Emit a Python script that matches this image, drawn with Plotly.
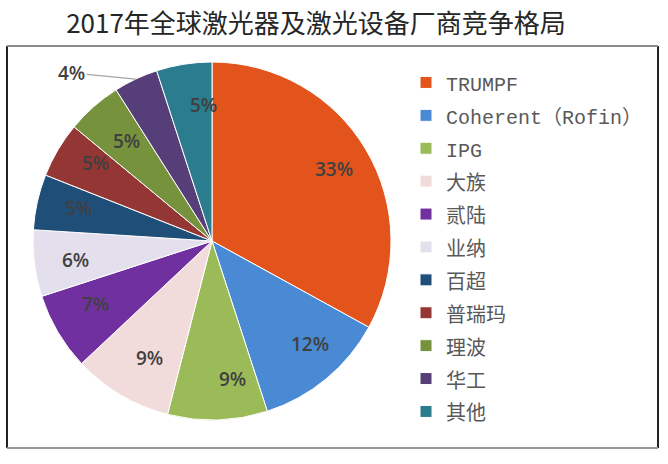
import math
import plotly.graph_objects as go

# ---- data ----
title_text = "2017年全球激光器及激光设备厂商竞争格局"
companies = ["TRUMPF", "Coherent（Rofin）", "IPG", "大族", "贰陆", "业纳",
             "百超", "普瑞玛", "理波", "华工", "其他"]
shares = [33, 12, 9, 9, 7, 6, 5, 5, 5, 4, 5]
colors = ["#E2541C", "#4A8AD4", "#9BBB59", "#F2DCDB", "#7030A0", "#E4DFEC",
          "#1F4E79", "#943634", "#76923C", "#563F78", "#2B7C8E"]
outside_label = "华工"

W, H = 668, 464
# pie placement (pixels)
cx, cy, R = 212, 241, 179

legend_labels = [f"<span style='font-size:20px'>{c}</span>" for c in companies]

fig = go.Figure(go.Pie(
    labels=legend_labels,
    values=shares,
    textinfo="none",
    sort=False,
    direction="clockwise",
    rotation=0,
    marker=dict(colors=colors, line=dict(color="white", width=1)),
    domain=dict(x=[(cx - R) / W, (cx + R) / W], y=[1 - (cy + R) / H, 1 - (cy - R) / H]),
    hoverinfo="label+percent",
))

label_font = dict(family="Open Sans, sans-serif", size=19, color="#404040", weight=600)
total = sum(shares)
cum = 0
for c, v in zip(companies, shares):
    frac = (cum + v / 2) / total
    cum += v
    theta = 2 * math.pi * frac
    if c == outside_label:
        hx = cx + R * math.sin(theta)
        hy = cy - R * math.cos(theta)
        fig.add_annotation(
            x=hx / W, y=1 - hy / H, xref="paper", yref="paper",
            text=f"{v}%", showarrow=True, arrowhead=0, arrowwidth=1.2,
            arrowcolor="#A6A6A6", ax=-64, ay=-6, font=label_font,
        )
        continue
    rr = R * (0.79 if v > 20 else 0.855)
    px = cx + rr * math.sin(theta)
    py = cy - rr * math.cos(theta)
    fig.add_annotation(x=px / W, y=1 - py / H, xref="paper", yref="paper",
                       text=f"{v}%", showarrow=False, font=label_font)

# frame
fig.add_shape(type="line", xref="paper", yref="paper", x0=7 / W, x1=7 / W,
              y0=1 - 448 / H, y1=1 - 46 / H, line=dict(color="#222222", width=2))
fig.add_shape(type="line", xref="paper", yref="paper", x0=658 / W, x1=658 / W,
              y0=1 - 448 / H, y1=1 - 46 / H, line=dict(color="#222222", width=2))
fig.add_shape(type="line", xref="paper", yref="paper", x0=7 / W, x1=658 / W,
              y0=1 - 46 / H, y1=1 - 46 / H, line=dict(color="#8C8C8C", width=2))
fig.add_shape(type="line", xref="paper", yref="paper", x0=7 / W, x1=658 / W,
              y0=1 - 448 / H, y1=1 - 448 / H, line=dict(color="#9A9A9A", width=2))

fig.update_layout(
    width=W, height=H,
    margin=dict(l=0, r=0, t=0, b=0),
    paper_bgcolor="white",
    plot_bgcolor="white",
    title=dict(text=title_text, x=316 / W, xanchor="center", y=1 - 24 / H, yanchor="middle",
               font=dict(family="Noto Sans CJK SC, sans-serif", size=26, color="#262626")),
    showlegend=True,
    legend=dict(x=406 / W, xanchor="left", y=1 - 61 / H, yanchor="top",
                font=dict(family="Liberation Mono, Noto Sans CJK SC, monospace", size=23, color="#595959"),
                bgcolor="rgba(0,0,0,0)", traceorder="normal"),
)

fig.write_html("out.html")
